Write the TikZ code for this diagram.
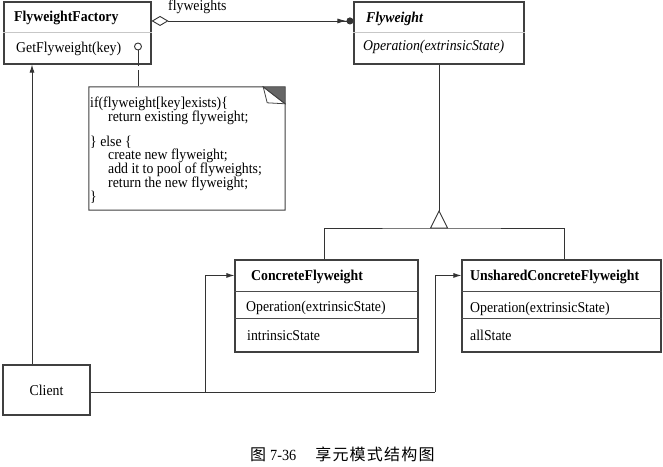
\documentclass[tikz,border=0pt]{standalone}
\usepackage{fontspec}
\setmainfont{Liberation Serif}[FakeStretch=0.92]
\newfontfamily\cjk{Noto Sans CJK SC}
\usetikzlibrary{arrows.meta}
\begin{document}
\begin{tikzpicture}[x=1pt,y=-1pt,
  every node/.style={inner sep=0pt},
  box/.style={draw=black!75, line width=1.1pt, rectangle, inner sep=0pt},
  tx/.style={anchor=base west, font=\fontsize{15}{16}\selectfont},
  bx/.style={anchor=base west, font=\fontsize{15}{16}\selectfont\bfseries},
  divl/.style={draw=black!22, line width=1pt},
  divd/.style={draw=black!70, line width=1pt},
  conn/.style={draw=black!80, line width=0.9pt},
  arr/.style={conn, -{Latex[length=8pt,width=5pt]}},
]
\useasboundingbox (0,0) rectangle (663,466);

% class boxes
\node[box, minimum width=147pt, minimum height=62pt] (ff) at (77.5,33) {};
\node[box, minimum width=170pt, minimum height=62pt] (fw) at (439,33) {};
\node[box, minimum width=183pt, minimum height=92pt] (cf) at (326.5,306) {};
\node[box, minimum width=199pt, minimum height=92pt] (ucf) at (561.5,306) {};
\node[box, minimum width=87pt, minimum height=50pt, font=\fontsize{15}{16}\selectfont] (client) at (46.5,390) {Client};

% dividers
\draw[divl] ([yshift=-31pt]ff.north west) -- ([yshift=-31pt]ff.north east);
\draw[divl] ([yshift=-31pt]fw.north west) -- ([yshift=-31pt]fw.north east);
\draw[divd] ([yshift=-32pt]cf.north west) -- ([yshift=-32pt]cf.north east);
\draw[divd] ([yshift=-59pt]cf.north west) -- ([yshift=-59pt]cf.north east);
\draw[divd] ([yshift=-32pt]ucf.north west) -- ([yshift=-32pt]ucf.north east);
\draw[divd] ([yshift=-59pt]ucf.north west) -- ([yshift=-59pt]ucf.north east);

% texts
\node[bx] (fft) at (14,21.7) {FlyweightFactory};
\node[tx] (ffo) at (16,52.5) {GetFlyweight(key)};
\node[bx, font=\fontsize{15}{16}\selectfont\bfseries\itshape] (fwt) at (366,22.5) {Flyweight};
\node[tx, font=\fontsize{15}{16}\selectfont\itshape] (fwo) at (363,50) {Operation(extrinsicState)};
\node[bx] (cft) at (251,280) {ConcreteFlyweight};
\node[tx] (cfo) at (246,311) {Operation(extrinsicState)};
\node[tx] (cfs) at (247,340) {intrinsicState};
\node[bx] (ucft) at (470,280) {UnsharedConcreteFlyweight};
\node[tx] (ucfo) at (470,312) {Operation(extrinsicState)};
\node[tx] (ucfs) at (470,340.5) {allState};

% note
\node[minimum width=196pt, minimum height=123pt] (note) at (187,148.5) {};
\draw[draw=black!75, line width=1pt, fill=white]
  (note.north west) -- ([xshift=-22pt]note.north east) -- ([yshift=-17pt]note.north east)
  -- (note.south east) -- (note.south west) -- cycle;
\draw[draw=black!75, line width=0.8pt, fill=black!60]
  ([xshift=-22pt]note.north east) -- (note.north east) -- ([yshift=-17pt]note.north east) -- cycle;
\draw[draw=black!75, line width=0.8pt]
  ([xshift=-22pt]note.north east) -- ([xshift=-18pt,yshift=-16pt]note.north east) -- ([yshift=-17pt]note.north east);
\node[anchor=north west, align=left, font={\fontsize{15}{13.8}\selectfont\lineskiplimit=-20pt\lineskip=0pt}] (notetext) at (90,96.5)
  {if(flyweight[key]exists)\{\\
   \hspace*{18pt}return existing flyweight;\\[11.2pt]
   \} else \{\\
   \hspace*{18pt}create new flyweight;\\
   \hspace*{18pt}add it to pool of flyweights;\\
   \hspace*{18pt}return the new flyweight;\\
   \}};

% pin and dashed link
\node[circle, draw=black!80, line width=0.9pt, minimum size=7pt] (pin) at (138,46.5) {};
\draw[conn, dash pattern=on 16pt off 4pt] (pin.south) -- (pin.south |- note.north);

% aggregation
\node[tx] (agl) at (168,10.5) {flyweights};
\draw[conn, {Diamond[open,length=17pt,width=10pt,line width=0.9pt]}-{Latex[length=9pt,width=5pt] Circle[length=7pt,width=7pt]}]
  ([yshift=-19.5pt]ff.north east) -- ([yshift=-19.5pt]fw.north west);

% inheritance
\coordinate (tip) at (439,211);
\coordinate (tb) at (439,228);
\draw[conn] (fw.south) -- (tip);
\draw[conn] (tip) -- ([xshift=-8.5pt]tb) -- ([xshift=8.5pt]tb) -- cycle;
\draw[conn] ([xshift=-2.5pt]cf.north) |- (tb) -| ([xshift=2.5pt]ucf.north);

% client links
\coordinate (j1) at (205,392);
\coordinate (j2) at (435,392);
\draw[arr] ([xshift=-14.5pt]client.north) -- ([xshift=-14.5pt]client.north |- ff.south);
\draw[conn] ([yshift=-2pt]client.east) -- (j2);
\draw[arr] (j1) |- ([yshift=-16pt]cf.north west);
\draw[arr] (j2) |- ([yshift=-16pt]ucf.north west);

% caption
\node[anchor=base west, font=\fontsize{15.5}{16}\selectfont] (cap) at (250,460)
  {{\fontsize{16}{18}\cjk 图}\hspace{4pt}7-36\hspace{19pt}{\fontsize{16}{18}\cjk 享\kern1.2pt 元\kern1.2pt 模\kern1.2pt 式\kern1.2pt 结\kern1.2pt 构\kern1.2pt 图}};
\end{tikzpicture}
\end{document}
